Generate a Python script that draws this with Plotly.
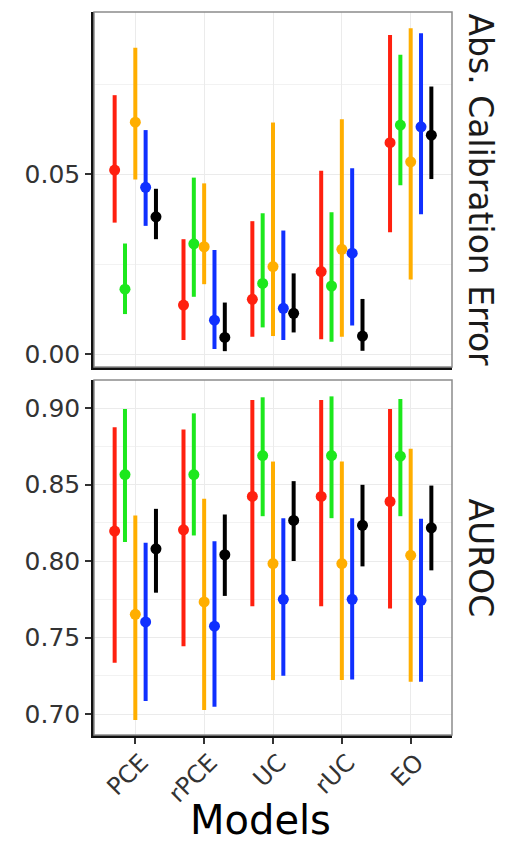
import plotly.graph_objects as go

models = ["PCE", "rPCE", "UC", "rUC", "EO"]
series_names = ["red", "green", "orange", "blue", "black"]
series_colors = ["#FF200F", "#1DE81D", "#FFAE00", "#1030FF", "#000000"]

# Abs. Calibration Error: point estimate, lower, upper (per series, per model)
ace_point = {
    "red":    [0.0511, 0.0136, 0.0152, 0.0229, 0.0587],
    "green":  [0.0180, 0.0306, 0.0196, 0.0189, 0.0636],
    "orange": [0.0644, 0.0298, 0.0243, 0.0291, 0.0534],
    "blue":   [0.0463, 0.0094, 0.0127, 0.0280, 0.0631],
    "black":  [0.0381, 0.0046, 0.0113, 0.0050, 0.0608],
}
ace_low = {
    "red":    [0.0365, 0.0039, 0.0048, 0.0041, 0.0338],
    "green":  [0.0111, 0.0159, 0.0074, 0.0034, 0.0469],
    "orange": [0.0485, 0.0194, 0.0050, 0.0048, 0.0207],
    "blue":   [0.0356, 0.0014, 0.0039, 0.0079, 0.0388],
    "black":  [0.0319, 0.0008, 0.0060, 0.0009, 0.0486],
}
ace_high = {
    "red":    [0.0719, 0.0319, 0.0369, 0.0509, 0.0886],
    "green":  [0.0307, 0.0490, 0.0391, 0.0394, 0.0831],
    "orange": [0.0851, 0.0474, 0.0643, 0.0652, 0.0905],
    "blue":   [0.0622, 0.0289, 0.0343, 0.0516, 0.0891],
    "black":  [0.0459, 0.0143, 0.0224, 0.0153, 0.0743],
}

# AUROC: point estimate, lower, upper
auc_point = {
    "red":    [0.8196, 0.8204, 0.8422, 0.8422, 0.8389],
    "green":  [0.8565, 0.8565, 0.8689, 0.8689, 0.8685],
    "orange": [0.7652, 0.7733, 0.7983, 0.7983, 0.8037],
    "blue":   [0.7602, 0.7574, 0.7750, 0.7750, 0.7743],
    "black":  [0.8080, 0.8041, 0.8265, 0.8233, 0.8217],
}
auc_low = {
    "red":    [0.7335, 0.7443, 0.7704, 0.7704, 0.7689],
    "green":  [0.8124, 0.8167, 0.8293, 0.8280, 0.8293],
    "orange": [0.6961, 0.7026, 0.7222, 0.7222, 0.7211],
    "blue":   [0.7085, 0.7048, 0.7250, 0.7226, 0.7211],
    "black":  [0.7793, 0.7772, 0.8000, 0.7965, 0.7939],
}
auc_high = {
    "red":    [0.8874, 0.8859, 0.9052, 0.9052, 0.8993],
    "green":  [0.8993, 0.8965, 0.9070, 0.9076, 0.9059],
    "orange": [0.8298, 0.8407, 0.8650, 0.8650, 0.8733],
    "blue":   [0.8120, 0.8130, 0.8280, 0.8280, 0.8276],
    "black":  [0.8341, 0.8304, 0.8522, 0.8498, 0.8493],
}

# page body has an 8px margin, so the figure is sized/positioned to compensate
OFF = 8
W, H = 519 - OFF, 842 - OFF
FONT = "DejaVu Sans"
dodge = [-0.3, -0.15, 0.0, 0.15, 0.3]
base_x = list(range(1, len(models) + 1))


def px_x(v):
    return (v - OFF) / W


def px_y(v):
    return 1 - (v - OFF) / H


fig = go.Figure()


def add_panel(point, low, high, xref, yref):
    for k, name in enumerate(series_names):
        xs = [b + dodge[k] for b in base_x]
        ys = point[name]
        plus = [h - p for h, p in zip(high[name], ys)]
        minus = [p - l for p, l in zip(ys, low[name])]
        fig.add_trace(go.Scatter(
            x=xs, y=ys, mode="markers", name=name, showlegend=False,
            xaxis=xref, yaxis=yref,
            marker=dict(color=series_colors[k], size=11),
            error_y=dict(type="data", symmetric=False, array=plus, arrayminus=minus,
                         color=series_colors[k], thickness=4, width=0),
        ))


add_panel(ace_point, ace_low, ace_high, "x", "y")
add_panel(auc_point, auc_low, auc_high, "x2", "y2")

x0, x1 = px_x(94), px_x(452)
top_dom = [px_y(367), px_y(12)]
bot_dom = [px_y(735), px_y(380)]

grid = "#EBEBEB"
common_x = dict(range=[0.4, 5.6], domain=[x0, x1], tickvals=base_x, ticktext=models,
                showgrid=True, gridcolor=grid, gridwidth=1.2, zeroline=False,
                showline=True, linecolor="#111111", linewidth=2.5, automargin=False)
common_y = dict(showgrid=True, gridcolor=grid, gridwidth=1.2, zeroline=False,
                showline=True, linecolor="#111111", linewidth=2.5,
                ticks="outside", ticklen=6, tickwidth=1.5, tickcolor="#333333",
                tickformat=".2f", tickfont=dict(family=FONT, size=25, color="#333333"),
                automargin=False)

fig.update_layout(
    width=W, height=H,
    margin=dict(l=0, r=0, t=0, b=0),
    paper_bgcolor="white", plot_bgcolor="white",
    showlegend=False,
    xaxis=dict(**common_x, anchor="y", matches="x2", showticklabels=False, ticks=""),
    xaxis2=dict(**common_x, anchor="y2", ticks="outside", ticklen=6, tickwidth=1.5,
                tickcolor="#333333", tickangle=-45, ticklabelshift=6,
                ticklabelstandoff=-5,
                tickfont=dict(family=FONT, size=24, color="#333333")),
    yaxis=dict(**common_y, domain=top_dom, anchor="x", range=[-0.0036, 0.0950],
               tick0=0, dtick=0.05,
               minor=dict(dtick=0.025, tick0=0, showgrid=True, gridcolor="#F2F2F2",
                          gridwidth=1, ticklen=0)),
    yaxis2=dict(**common_y, domain=bot_dom, anchor="x2", range=[0.6863, 0.9183],
                tick0=0.70, dtick=0.05,
                minor=dict(dtick=0.025, tick0=0.70, showgrid=True, gridcolor="#F2F2F2",
                           gridwidth=1, ticklen=0)),
    shapes=[
        dict(type="rect", xref="paper", yref="paper", x0=x0, x1=x1,
             y0=top_dom[0], y1=top_dom[1], line=dict(color="#8C8C8C", width=1.5),
             layer="above"),
        dict(type="rect", xref="paper", yref="paper", x0=x0, x1=x1,
             y0=bot_dom[0], y1=bot_dom[1], line=dict(color="#8C8C8C", width=1.5),
             layer="above"),
    ],
    annotations=[
        dict(text="Abs. Calibration Error", xref="paper", yref="paper",
             x=px_x(480), y=(top_dom[0] + top_dom[1]) / 2, textangle=90,
             showarrow=False, font=dict(family=FONT, size=33, color="#1A1A1A"),
             xanchor="center", yanchor="middle"),
        dict(text="AUROC", xref="paper", yref="paper",
             x=px_x(480), y=(bot_dom[0] + bot_dom[1]) / 2, textangle=90,
             showarrow=False, font=dict(family=FONT, size=33, color="#1A1A1A"),
             xanchor="center", yanchor="middle"),
        dict(text="Models", xref="paper", yref="paper",
             x=px_x(260), y=px_y(820), showarrow=False,
             font=dict(family=FONT, size=40, color="#000000"),
             xanchor="center", yanchor="middle"),
    ],
)

fig.write_html("out.html")
